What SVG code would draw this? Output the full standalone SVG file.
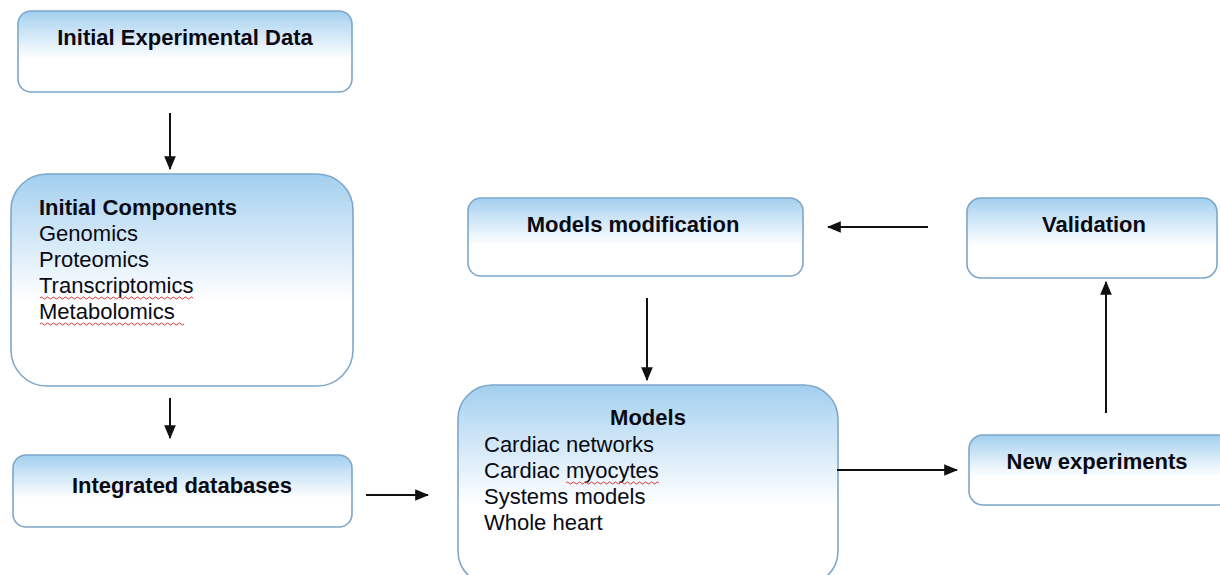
<svg xmlns="http://www.w3.org/2000/svg" width="1220" height="575" viewBox="0 0 1220 575">
<style>
.box{fill:url(#g);stroke:#7ea7c9;stroke-width:1.6}
.t{font-family:"Liberation Sans",Arial,sans-serif;font-size:22px;fill:#0a0a14}
.b{font-weight:bold}
.c{text-anchor:middle}
.e{stroke:#111;stroke-width:2;fill:none;marker-end:url(#ah)}
.w{stroke:#d83a3a;stroke-width:1;fill:none}
</style>
<defs>
<linearGradient id="g" x1="0" y1="0" x2="0" y2="1">
<stop offset="0" stop-color="#a2cfee"/>
<stop offset="0.25" stop-color="#cbe4f6"/>
<stop offset="0.6" stop-color="#ffffff"/>
<stop offset="1" stop-color="#ffffff"/>
</linearGradient>
<marker id="ah" viewBox="0 0 12 10" refX="11" refY="5" markerWidth="7" markerHeight="6" orient="auto" markerUnits="strokeWidth">
<path d="M0,0 L12,5 L0,10 Z" fill="#111"/>
</marker>
</defs>
<rect width="1220" height="575" fill="#ffffff"/>
<g id="n-initial-data">
<rect class="box" x="18" y="11" width="334" height="81" rx="13"/>
<text class="t b c" x="185" y="45">Initial Experimental Data</text>
</g>
<g id="n-initial-components">
<rect class="box" x="11" y="174" width="342" height="212" rx="36"/>
<text class="t b" x="39" y="215">Initial Components</text>
<text class="t" x="39" y="241">Genomics</text>
<text class="t" x="39" y="267">Proteomics</text>
<text class="t" x="39" y="293">Transcriptomics</text>
<text class="t" x="39" y="319">Metabolomics</text>
<path class="w" d="M40,298 q1.5,-2 3,0 t3,0 t3,0 t3,0 t3,0 t3,0 t3,0 t3,0 t3,0 t3,0 t3,0 t3,0 t3,0 t3,0 t3,0 t3,0 t3,0 t3,0 t3,0 t3,0 t3,0 t3,0 t3,0 t3,0 t3,0 t3,0 t3,0 t3,0 t3,0 t3,0 t3,0 t3,0 t3,0 t3,0 t3,0 t3,0 t3,0 t3,0 t3,0 t3,0 t3,0 t3,0 t3,0 t3,0 t3,0 t3,0 t3,0 t3,0 t3,0 t3,0 t3,0"/>
<path class="w" d="M40,324 q1.5,-2 3,0 t3,0 t3,0 t3,0 t3,0 t3,0 t3,0 t3,0 t3,0 t3,0 t3,0 t3,0 t3,0 t3,0 t3,0 t3,0 t3,0 t3,0 t3,0 t3,0 t3,0 t3,0 t3,0 t3,0 t3,0 t3,0 t3,0 t3,0 t3,0 t3,0 t3,0 t3,0 t3,0 t3,0 t3,0 t3,0 t3,0 t3,0 t3,0 t3,0 t3,0 t3,0 t3,0 t3,0 t3,0 t3,0 t3,0 t3,0"/>
</g>
<g id="n-integrated">
<rect class="box" x="13" y="455" width="339" height="72" rx="13"/>
<text class="t b c" x="182" y="493">Integrated databases</text>
</g>
<g id="n-models-mod">
<rect class="box" x="468" y="198" width="335" height="78" rx="13"/>
<text class="t b c" x="633" y="232">Models modification</text>
</g>
<g id="n-validation">
<rect class="box" x="967" y="198" width="250" height="80" rx="14"/>
<text class="t b c" x="1094" y="232">Validation</text>
</g>
<g id="n-models">
<rect class="box" x="458" y="385" width="380" height="200" rx="34"/>
<text class="t b c" x="648" y="425">Models</text>
<text class="t" x="484" y="452">Cardiac networks</text>
<text class="t" x="484" y="478">Cardiac myocytes</text>
<text class="t" x="484" y="504">Systems models</text>
<text class="t" x="484" y="530">Whole heart</text>
<path class="w" d="M566,483 q1.5,-2 3,0 t3,0 t3,0 t3,0 t3,0 t3,0 t3,0 t3,0 t3,0 t3,0 t3,0 t3,0 t3,0 t3,0 t3,0 t3,0 t3,0 t3,0 t3,0 t3,0 t3,0 t3,0 t3,0 t3,0 t3,0 t3,0 t3,0 t3,0 t3,0 t3,0 t3,0"/>
</g>
<g id="n-new-exp">
<rect class="box" x="969" y="435" width="262" height="70" rx="14"/>
<text class="t b c" x="1097" y="469">New experiments</text>
</g>
<g id="connectors">
<path class="e" d="M170,113 L170,169"/>
<path class="e" d="M170,398 L170,438"/>
<path class="e" d="M366,495 L428,495"/>
<path class="e" d="M647,298 L647,380"/>
<path class="e" d="M928,227 L828,227"/>
<path class="e" d="M837,470 L957,470"/>
<path class="e" d="M1106,413 L1106,282"/>
</g>
</svg>
